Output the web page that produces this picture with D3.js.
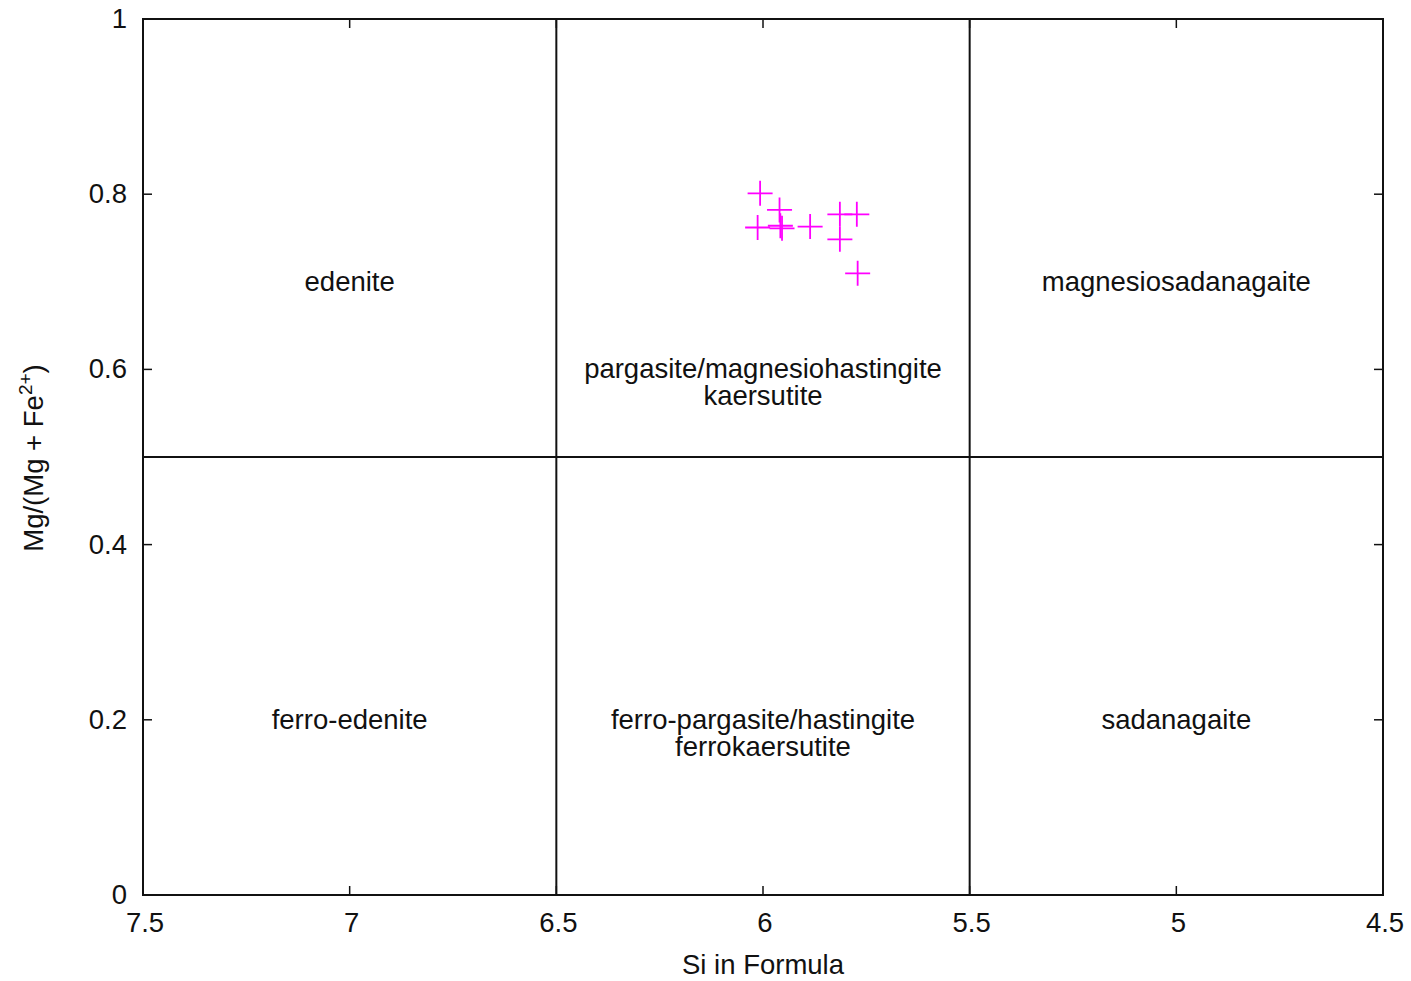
<!DOCTYPE html>
<html><head><meta charset="utf-8">
<script src="https://cdn.jsdelivr.net/npm/d3@7"></script>
<style>body{margin:0;background:#fff}svg text{font-family:"Liberation Sans",Arial,sans-serif;fill:#111}</style>
</head><body>
<svg id="c" width="1411" height="981"></svg>
<script>
const xTicks = [7.5, 7, 6.5, 6, 5.5, 5, 4.5];
const yTicks = [0, 0.2, 0.4, 0.6, 0.8, 1];
const siValues = [6.007, 5.960, 6.013, 5.954, 5.958, 5.886, 5.814, 5.773, 5.814, 5.771];
const mgValues = [0.801, 0.782, 0.762, 0.761, 0.764, 0.763, 0.777, 0.777, 0.7485, 0.7097];
const dividersX = [6.5, 5.5];
const dividersY = [0.5];
const regionLabels = [
  {x: 7.0, y: 0.7, lines: ["edenite"]},
  {x: 6.0, y: 0.6, lines: ["pargasite/magnesiohastingite", "kaersutite"]},
  {x: 5.0, y: 0.7, lines: ["magnesiosadanagaite"]},
  {x: 7.0, y: 0.2, lines: ["ferro-edenite"]},
  {x: 6.0, y: 0.2, lines: ["ferro-pargasite/hastingite", "ferrokaersutite"]},
  {x: 5.0, y: 0.2, lines: ["sadanagaite"]}
];

const L = 143, R = 1383, T = 19, B = 895;
const FS = 27.5;
const svg = d3.select("#c");
const x = d3.scaleLinear().domain([7.5, 4.5]).range([L, R]);
const y = d3.scaleLinear().domain([0, 1]).range([B, T]);
const fmt = d => String(d);

// ticks (inward, mirrored)
const tl = 9;
const g = svg.append("g").attr("stroke", "#111").attr("stroke-width", 1.5);
xTicks.forEach(t => {
  g.append("line").attr("x1", x(t)).attr("x2", x(t)).attr("y1", B).attr("y2", B - tl);
  g.append("line").attr("x1", x(t)).attr("x2", x(t)).attr("y1", T).attr("y2", T + tl);
});
yTicks.forEach(t => {
  g.append("line").attr("x1", L).attr("x2", L + tl).attr("y1", y(t)).attr("y2", y(t));
  g.append("line").attr("x1", R).attr("x2", R - tl).attr("y1", y(t)).attr("y2", y(t));
});

// dividers
dividersX.forEach(v => svg.append("line").attr("x1", x(v)).attr("x2", x(v)).attr("y1", T).attr("y2", B).attr("stroke", "#111").attr("stroke-width", 2));
dividersY.forEach(v => svg.append("line").attr("x1", L).attr("x2", R).attr("y1", y(v)).attr("y2", y(v)).attr("stroke", "#111").attr("stroke-width", 2));

// frame
svg.append("rect").attr("x", L).attr("y", T).attr("width", R - L).attr("height", B - T)
  .attr("fill", "none").attr("stroke", "#111").attr("stroke-width", 2);

// tick labels
svg.append("g").selectAll("text").data(xTicks).join("text")
  .attr("x", d => x(d) + 2).attr("y", 932).attr("text-anchor", "middle")
  .attr("font-size", FS).text(fmt);
svg.append("g").selectAll("text").data(yTicks).join("text")
  .attr("x", 127).attr("y", d => y(d) + 9).attr("text-anchor", "end")
  .attr("font-size", FS).text(fmt);

// axis titles
svg.append("text").attr("x", (L + R) / 2).attr("y", 974).attr("text-anchor", "middle")
  .attr("font-size", FS).text("Si in Formula");
const yt = svg.append("text").attr("transform", "translate(43,458) rotate(-90)")
  .attr("text-anchor", "middle").attr("font-size", FS);
yt.append("tspan").text("Mg/(Mg + Fe");
yt.append("tspan").attr("dy", -11).attr("font-size", 19).text("2+");
yt.append("tspan").attr("dy", 11).text(")");

// region labels
regionLabels.forEach(r => {
  const t = svg.append("text").attr("text-anchor", "middle").attr("font-size", FS);
  r.lines.forEach((ln, i) => t.append("tspan").attr("x", x(r.x)).attr("y", y(r.y) + 9 + i * 27).text(ln));
});

// points
const pts = siValues.map((s, i) => [s, mgValues[i]]);
const s = 12.5;
svg.append("g").attr("stroke", "#ff00ff").attr("stroke-width", 1.8).selectAll("path").data(pts).join("path")
  .attr("d", d => `M${x(d[0]) - s},${y(d[1])}H${x(d[0]) + s}M${x(d[0])},${y(d[1]) - s}V${y(d[1]) + s}`);
</script>
</body></html>
